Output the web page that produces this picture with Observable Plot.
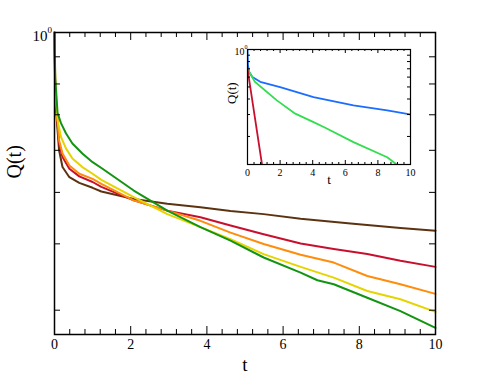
<!DOCTYPE html>
<html><head><meta charset="utf-8">
<script src="https://cdn.jsdelivr.net/npm/d3@7"></script>
<script src="https://cdn.jsdelivr.net/npm/@observablehq/plot@0.6"></script>
<style>
body{margin:0;background:#fff}
#wrap{position:relative;width:491px;height:379px}
#inset{position:absolute;left:220px;top:40px}
svg text{font-family:"Liberation Serif","Times New Roman",serif}
</style>
</head><body><div id="wrap"><div id="main"></div><div id="inset"></div></div>
<script>
// ---- main chart data ----
const xTickLabels = [0, 2, 4, 6, 8, 10];
const yTickValues = [0.3, 0.4, 0.5, 0.6, 0.7, 0.8, 0.9];

const brownT = [0, 0.02, 0.12, 0.21, 0.39, 0.65, 1.0, 1.23, 2.08, 2.96, 3.83, 4.62, 5.49, 6.46, 7.77, 9.08, 10];
const brownQ = [1, 0.75, 0.600, 0.558, 0.534, 0.521, 0.510, 0.502, 0.486, 0.476, 0.469, 0.461, 0.455, 0.446, 0.437, 0.4285, 0.4235];

const redT = [0, 0.02, 0.12, 0.21, 0.39, 0.65, 1.0, 1.23, 2.08, 2.96, 3.83, 4.62, 5.49, 6.46, 7.33, 8.21, 9.08, 10];
const redQ = [1, 0.77, 0.618, 0.583, 0.554, 0.536, 0.523, 0.512, 0.483, 0.462, 0.449, 0.433, 0.417, 0.4007, 0.391, 0.3826, 0.3716, 0.362];

const orangeT = [0, 0.02, 0.12, 0.21, 0.39, 0.65, 1.0, 1.23, 2.08, 2.96, 3.83, 4.62, 5.49, 6.46, 7.33, 8.21, 9.08, 10];
const orangeQ = [1, 0.78, 0.627, 0.592, 0.562, 0.542, 0.530, 0.519, 0.483, 0.462, 0.442, 0.420, 0.3997, 0.3814, 0.3688, 0.348, 0.3357, 0.322];

const yellowT = [0, 0.02, 0.08, 0.17, 0.30, 0.47, 0.73, 1.0, 1.23, 2.08, 2.96, 3.83, 4.62, 5.49, 6.46, 7.33, 8.21, 9.08, 10];
const yellowQ = [1, 0.80, 0.684, 0.636, 0.605, 0.579, 0.558, 0.542, 0.528, 0.490, 0.455, 0.430, 0.408, 0.3826, 0.362, 0.3455, 0.326, 0.3145, 0.2979];

const greenT = [0, 0.02, 0.08, 0.17, 0.30, 0.47, 0.73, 1.0, 1.26, 2.08, 2.96, 3.83, 4.62, 5.49, 6.46, 6.90, 7.33, 8.21, 9.08, 10];
const greenQ = [1, 0.82, 0.706, 0.675, 0.646, 0.618, 0.592, 0.570, 0.554, 0.504, 0.462, 0.430, 0.4055, 0.377, 0.353, 0.3416, 0.3357, 0.3167, 0.2988, 0.2778];

// ---- inset data ----
const insetYTicks = [0.2, 0.3, 0.4, 0.5, 0.6, 0.7, 0.8, 0.9];
const inBlueT = [0, 0.03, 0.1, 0.3, 0.78, 2, 4.05, 6.5, 8.57, 10];
const inBlueQ = [1, 0.75, 0.66, 0.60, 0.55, 0.498, 0.414, 0.355, 0.324, 0.30];
const inGreenT = [0, 0.45, 1.8, 2.93, 4.05, 4.77, 6.5, 8.57, 9.15];
const inGreenQ = [0.70, 0.55, 0.39, 0.305, 0.261, 0.235, 0.18, 0.136, 0.119];
const inRedT = [0, 0.89];
const inRedQ = [0.70, 0.119];

const pts = (t, q) => t.map((d, i) => ({t: d, q: q[i]}));
const minorX = d3.range(0, 26).filter(i => i % 5 !== 0).map(i => i * 0.4);
const FONT = "Liberation Serif, Times New Roman, serif";

// ---- main plot ----
{
  const W = 491, H = 379, mL = 54, mR = 56, mT = 32, mB = 45;
  const pw = W - mL - mR, ph = H - mT - mB;
  const series = [
    [brownT, brownQ, "#5c3311"],
    [redT, redQ, "#c8102e"],
    [orangeT, orangeQ, "#ff8c0a"],
    [yellowT, yellowQ, "#e6d400"],
    [greenT, greenQ, "#129412"]
  ];
  const chart = Plot.plot({
    width: W, height: H,
    marginLeft: mL, marginRight: mR, marginTop: mT, marginBottom: mB,
    style: {fontFamily: FONT, background: "white", color: "black"},
    x: {domain: [0, 10], axis: null},
    y: {type: "log", domain: [0.27, 1], axis: null},
    marks: [
      ...series.map(([t, q, c]) => Plot.line(pts(t, q), {x: "t", y: "q", stroke: c, strokeWidth: 2})),
      Plot.tickX(xTickLabels, {x: d => d, insetTop: ph - 8, stroke: "black"}),
      Plot.tickX(minorX, {x: d => d, insetTop: ph - 5, stroke: "black"}),
      Plot.tickX(xTickLabels, {x: d => d, insetBottom: ph - 8, stroke: "black"}),
      Plot.tickX(minorX, {x: d => d, insetBottom: ph - 5, stroke: "black"}),
      Plot.tickY(yTickValues, {y: d => d, insetRight: pw - 6, stroke: "black"}),
      Plot.tickY(yTickValues, {y: d => d, insetLeft: pw - 6, stroke: "black"}),
      Plot.frame({stroke: "black", strokeWidth: 1.5}),
      Plot.text(xTickLabels, {x: d => d, frameAnchor: "bottom", dy: 10, lineAnchor: "middle", fontSize: 14, fontFamily: FONT, text: d => String(d)}),
      Plot.text(["10"], {frameAnchor: "top-left", dx: -7, dy: 4, textAnchor: "end", lineAnchor: "middle", fontSize: 15, fontFamily: FONT}),
      Plot.text(["0"], {frameAnchor: "top-left", dx: -7, dy: -2, textAnchor: "start", lineAnchor: "middle", fontSize: 9, fontFamily: FONT}),
      Plot.text(["t"], {frameAnchor: "bottom", dy: 30, lineAnchor: "middle", fontSize: 19, fontFamily: FONT}),
      Plot.text(["Q(t)"], {frameAnchor: "left", dx: -40, dy: -5, rotate: -90, lineAnchor: "middle", fontSize: 20, fontFamily: FONT})
    ]
  });
  document.getElementById("main").appendChild(chart);
}

// ---- inset plot ----
{
  const W = 200, H = 150, mL = 27, mR = 10, mT = 9, mB = 26;
  const pw = W - mL - mR, ph = H - mT - mB;
  const series = [
    [inBlueT, inBlueQ, "#1a6dff"],
    [inGreenT, inGreenQ, "#33dd50"],
    [inRedT, inRedQ, "#c8102e"]
  ];
  const chart = Plot.plot({
    width: W, height: H,
    marginLeft: mL, marginRight: mR, marginTop: mT, marginBottom: mB,
    style: {fontFamily: FONT, background: "white", color: "black"},
    x: {domain: [0, 10], axis: null},
    y: {type: "log", domain: [0.119, 1], axis: null},
    marks: [
      ...series.map(([t, q, c]) => Plot.line(pts(t, q), {x: "t", y: "q", stroke: c, strokeWidth: 1.8, clip: true})),
      Plot.tickX(xTickLabels, {x: d => d, insetTop: ph - 4, stroke: "black"}),
      Plot.tickX(minorX, {x: d => d, insetTop: ph - 2, stroke: "black"}),
      Plot.tickX(xTickLabels, {x: d => d, insetBottom: ph - 4, stroke: "black"}),
      Plot.tickX(minorX, {x: d => d, insetBottom: ph - 2, stroke: "black"}),
      Plot.tickY(insetYTicks, {y: d => d, insetRight: pw - 3, stroke: "black"}),
      Plot.tickY(insetYTicks, {y: d => d, insetLeft: pw - 3, stroke: "black"}),
      Plot.frame({stroke: "black", strokeWidth: 1.2}),
      Plot.text(xTickLabels, {x: d => d, frameAnchor: "bottom", dy: 8, lineAnchor: "middle", fontSize: 10, fontFamily: FONT, text: d => String(d)}),
      Plot.text(["10"], {frameAnchor: "top-left", dx: -3, dy: 2, textAnchor: "end", lineAnchor: "middle", fontSize: 10, fontFamily: FONT}),
      Plot.text(["0"], {frameAnchor: "top-left", dx: -3, dy: -2, textAnchor: "start", lineAnchor: "middle", fontSize: 6, fontFamily: FONT}),
      Plot.text(["t"], {frameAnchor: "bottom", dy: 15, lineAnchor: "middle", fontSize: 13, fontFamily: FONT}),
      Plot.text(["Q(t)"], {frameAnchor: "left", dx: -16, dy: -3, rotate: -90, lineAnchor: "middle", fontSize: 13, fontFamily: FONT})
    ]
  });
  document.getElementById("inset").appendChild(chart);
}
</script>
</body></html>
